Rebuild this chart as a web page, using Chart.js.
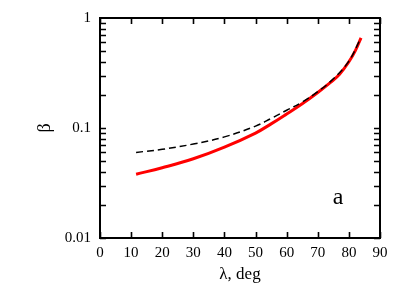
<!DOCTYPE html>
<html><head><meta charset="utf-8">
<script src="https://cdn.jsdelivr.net/npm/chart.js@4/dist/chart.umd.min.js"></script>
<style>html,body{margin:0;padding:0;background:#fff}</style>
</head><body>
<canvas id="c" width="420" height="294" style="width:420px;height:294px;display:block"></canvas>
<script>
// Data
const lambdaRed = [11.6, 20, 30, 40, 50, 55, 60, 65, 70, 74, 77, 80, 82, 83.9];
const betaRed   = [0.038, 0.0435, 0.0525, 0.067, 0.090, 0.109, 0.134, 0.166, 0.210, 0.258, 0.308, 0.400, 0.500, 0.660];
const lambdaDash = [11.6, 20, 30, 40, 50, 55, 60, 65, 70, 75, 80, 83.5];
const betaDash   = [0.060, 0.064, 0.0715, 0.083, 0.104, 0.122, 0.145, 0.172, 0.214, 0.280, 0.405, 0.630];
const xTickValues = [0, 10, 20, 30, 40, 50, 60, 70, 80, 90];
const yMajorTicks = [0.01, 0.1, 1];
const yTickLabels = ['0.01', '0.1', '1'];
const panelLabel = 'a';
const panelLabelAt = {x: 76.5, y: 0.0205};

const SERIF = '"Liberation Serif", "DejaVu Serif", serif';

function pts(xs, ys){ return xs.map((x,i)=>({x:x, y:ys[i]})); }

const frame = {
  id: 'frame',
  afterDraw(chart){
    const {ctx, chartArea:a, scales:{x, y}} = chart;
    ctx.save();
    ctx.strokeStyle = '#000';
    ctx.lineWidth = 1.6;
    ctx.beginPath();
    const tl = 6;
    xTickValues.forEach(v=>{
      const px = Math.round(x.getPixelForValue(v))+0.5;
      ctx.moveTo(px, a.bottom); ctx.lineTo(px, a.bottom - tl);
      ctx.moveTo(px, a.top); ctx.lineTo(px, a.top + tl);
    });
    const yvals = [];
    for (let d = 0; d < yMajorTicks.length - 1; d++) {
      for (let m = 1; m < 10; m++) yvals.push(yMajorTicks[d]*m);
    }
    yvals.forEach(v=>{
      const py = Math.round(y.getPixelForValue(v))+0.5;
      ctx.moveTo(a.left, py); ctx.lineTo(a.left + tl, py);
      ctx.moveTo(a.right, py); ctx.lineTo(a.right - tl, py);
    });
    ctx.stroke();
    ctx.lineWidth = 2;
    ctx.strokeRect(a.left, a.top, a.right - a.left, a.bottom - a.top);
    ctx.fillStyle = '#000';
    ctx.font = '24px ' + SERIF;
    ctx.textAlign = 'center';
    ctx.textBaseline = 'alphabetic';
    ctx.fillText(panelLabel, x.getPixelForValue(panelLabelAt.x), y.getPixelForValue(panelLabelAt.y));
    ctx.restore();
  }
};

new Chart(document.getElementById('c'), {
  type: 'line',
  data: {
    datasets: [
      {
        data: pts(lambdaDash, betaDash),
        borderColor: '#000', borderWidth: 1.5, borderDash: [7, 4],
        pointRadius: 0, fill: false, tension: 0.4
      },
      {
        data: pts(lambdaRed, betaRed),
        borderColor: '#ff0000', borderWidth: 3,
        pointRadius: 0, fill: false, tension: 0.4
      }
    ]
  },
  options: {
    responsive: false,
    animation: false,
    events: [],
    layout: {padding: {top: 14, right: 40, left: 0, bottom: 0}},
    plugins: {legend: {display: false}, tooltip: {enabled: false}},
    scales: {
      x: {
        type: 'linear', min: 0, max: 90,
        grid: {display: false, drawTicks: false},
        border: {display: false},
        afterBuildTicks: s => { s.ticks = xTickValues.map(v=>({value:v})); },
        afterFit: s => { s.height = 56; },
        ticks: {color: '#000', padding: 6, font: {family: SERIF, size: 15}, maxRotation: 0, autoSkip: false},
        title: {display: true, text: 'λ, deg', color: '#000', font: {family: SERIF, size: 17}, padding: {top: 0, bottom: 9}}
      },
      y: {
        type: 'logarithmic', min: 0.01, max: 1,
        grid: {display: false, drawTicks: false},
        border: {display: false},
        afterBuildTicks: s => { s.ticks = yMajorTicks.map(v=>({value:v})); },
        afterFit: s => { s.width = 100; },
        ticks: {
          color: '#000', padding: 9, font: {family: SERIF, size: 15}, autoSkip: false,
          callback: (v) => { const i = yMajorTicks.findIndex(t => Math.abs(t - v) < 1e-9); return i >= 0 ? yTickLabels[i] : ''; }
        },
        title: {display: true, text: 'β', color: '#000', font: {family: SERIF, size: 18}, padding: {top: 34, bottom: 0}}
      }
    }
  },
  plugins: [frame]
});
</script>
</body></html>
